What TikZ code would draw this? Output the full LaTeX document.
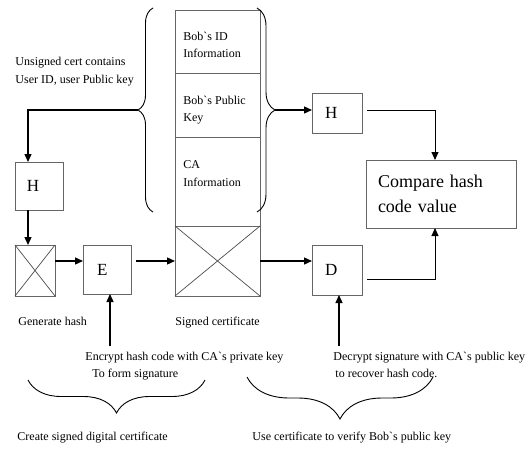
\documentclass[tikz,border=0pt]{standalone}
\usepackage{fontspec}
\setmainfont{Liberation Serif}
\usetikzlibrary{arrows.meta,decorations.pathreplacing}
\begin{document}
\begin{tikzpicture}[x=1pt,y=-1pt,
  line width=0.9pt,
  arr/.style={-{Triangle[length=8pt,width=7pt]}},
  tarr/.style={arr,line width=1.3pt},
  bx/.style={draw=black!60,line width=0.8pt,anchor=north west,inner sep=0pt,outer sep=0pt},
  lt/.style={anchor=base west,inner sep=0pt,font=\fontsize{12}{17}\selectfont},
  big/.style={font=\fontsize{17}{20}\selectfont,align=left},
  brc/.style={decorate,decoration={brace,amplitude=#1},line width=0.9pt}
]
\useasboundingbox (0,0) rectangle (532,452);

% certificate column
\node[bx,minimum width=85pt,minimum height=63pt] (c1) at (175,10) {};
\node[bx,minimum width=85pt,minimum height=64pt] (c2) at (175,73) {};
\node[bx,minimum width=85pt,minimum height=89pt] (c3) at (175,137) {};
\node[bx,minimum width=85pt,minimum height=70pt] (sc) at (175,226) {};
\draw[black!70,line width=0.7pt] (sc.north west) -- (sc.south east) (sc.north east) -- (sc.south west);

% generate hash cross box
\node[bx,minimum width=40pt,minimum height=51pt] (gh) at (15,245) {};
\draw[black!70,line width=0.7pt] (gh.north west) -- (gh.south east) (gh.north east) -- (gh.south west);

% boxes with letters
\node[bx,big,minimum width=48pt,minimum height=48pt,text width=24pt,inner xsep=12pt] (hL) at (15,162) {H};
\node[bx,big,minimum width=48pt,minimum height=49pt,text width=20pt,inner xsep=14pt] (E) at (83,245) {E};
\node[bx,big,minimum width=50pt,minimum height=40pt,text width=24pt,inner xsep=13pt] (hR) at (312,93) {H};
\node[bx,big,minimum width=50pt,minimum height=50pt,text width=24pt,inner xsep=13pt] (D) at (312,245) {D};
\node[bx,font=\fontsize{18}{25}\selectfont,align=left,minimum width=150pt,minimum height=68pt,text width=126pt,inner xsep=12pt] (cmp) at (366,160) {Compare hash\\code value};

% braces
\draw[brc=15pt] (153,212) -- (153,8);
\draw[brc=18pt] (257,8) -- (257,212);
\draw[brc=33pt] (205,380) -- (28,380);
\draw[brc=42pt] (433,377) -- (247,377);

% coordinates
\coordinate (tipL) at (138,110);
\coordinate (tipR) at (275,110);
\coordinate (colL) at (28,0);
\coordinate (colR) at (435,0);
\coordinate (dOut) at (367,279);
\coordinate (encSrc) at (110,346);
\coordinate (decSrc) at (339,346);

% connectors
\draw[tarr] (tipL) -| (colL |- hL.north);
\draw[tarr] (colL |- hL.south) -- (colL |- gh.north);
\draw[tarr] (gh.east |- sc.center) -- (E.west |- sc.center);
\draw[tarr] ([xshift=5pt]E.east |- sc.center) -- (sc.west);
\draw[tarr] (sc.east) -- (D.west |- sc.center);
\draw[tarr] (tipR) -- (hR.west |- tipR);
\draw[arr] ([xshift=5pt]hR.east |- tipR) -| (colR |- cmp.north);
\draw[arr] (dOut) -| (colR |- cmp.south);
\draw[tarr] (encSrc) -- (encSrc |- E.south);
\draw[tarr] (decSrc) -- (decSrc |- D.south);

% texts
\node[lt] (t1) at (15,65) {Unsigned cert contains};
\node[lt] (t2) at (15,83) {User ID, user Public key};
\node[lt] (b1) at (183,41) {Bob\textasciigrave s ID};
\node[lt] (b2) at (183,58) {Information};
\node[lt] (b3) at (183,104) {Bob\textasciigrave s Public};
\node[lt] (b4) at (183,121) {Key};
\node[lt] (b5) at (183,168) {CA};
\node[lt] (b6) at (183,186) {Information};
\node[lt] (gt) at (18,325) {Generate hash};
\node[lt] (st) at (175,325) {Signed certificate};
\node[lt] (en1) at (85,360) {Encrypt hash code with CA\textasciigrave s private key};
\node[lt] (en2) at (92,377) {To form signature};
\node[lt] (de1) at (333,360) {Decrypt signature with CA\textasciigrave s public key};
\node[lt] (de2) at (335,377) {to recover hash code.};
\node[lt] (cr) at (17,440) {Create signed digital certificate};
\node[lt] (us) at (252,440) {Use certificate to verify Bob\textasciigrave s public key};
\end{tikzpicture}
\end{document}
